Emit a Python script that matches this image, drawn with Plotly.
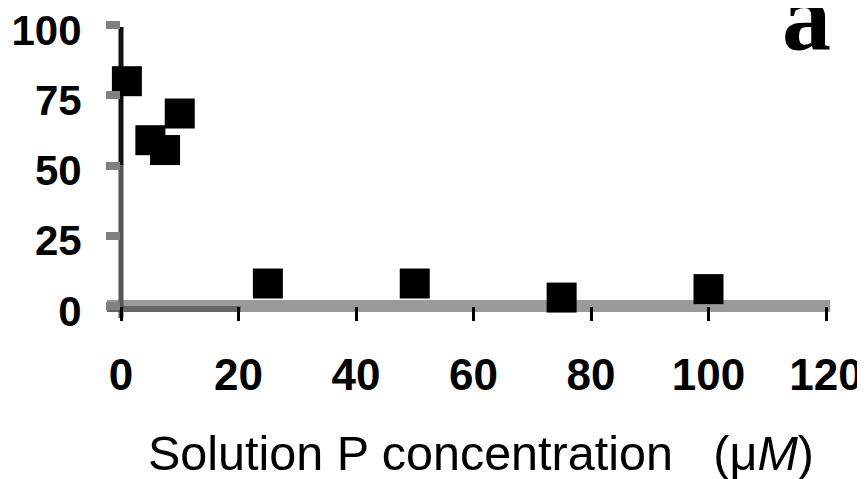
import plotly.graph_objects as go

# Data
conc = [1, 5, 7.5, 10, 25, 50, 75, 100]
value = [80, 59, 55.5, 68.5, 8, 8, 3, 6]
x_ticks = [0, 20, 40, 60, 80, 100, 120]
y_ticks = [0, 25, 50, 75, 100]

fig = go.Figure()
fig.add_trace(go.Scatter(
    x=conc, y=value, mode="markers",
    marker=dict(symbol="square", size=30, color="black", line=dict(width=0)),
    cliponaxis=False, showlegend=False,
))

# axis decorations (band-like x axis, two-tone y axis)
fig.add_shape(type="line", xref="paper", yref="paper", x0=-0.02, x1=1.006, y0=0, y1=0,
              line=dict(color="#9a9a9a", width=12), layer="below")
fig.add_shape(type="line", xref="paper", yref="paper", x0=-0.02, x1=0.17, y0=-0.0107, y1=-0.0107,
              line=dict(color="#666666", width=6), layer="below")
fig.add_shape(type="line", xref="paper", yref="paper", x0=0, x1=0, y0=-0.043, y1=0.5,
              line=dict(color="#555555", width=5), layer="below")
fig.add_shape(type="line", xref="paper", yref="paper", x0=0, x1=0, y0=0.5, y1=0.993,
              line=dict(color="#111111", width=5), layer="below")

fig.add_annotation(text="a", xref="paper", yref="paper", x=0.972, y=1.032,
                   xanchor="center", yanchor="middle", showarrow=False,
                   font=dict(family="Liberation Serif", size=98, color="black", weight="bold"))

fig.add_annotation(text="Solution P concentration\u00a0\u00a0\u00a0(\u03bc<i>M</i>)",
                   xref="paper", yref="paper", x=0.5106, y=-0.522,
                   xanchor="center", yanchor="middle", showarrow=False,
                   font=dict(family="Liberation Sans", size=48.5, color="black"))

fig.update_layout(
    width=865, height=479,
    margin=dict(l=113, r=47, t=17, b=181),
    paper_bgcolor="white", plot_bgcolor="white",
    font=dict(family="Liberation Sans", color="black"),
)
fig.update_xaxes(
    range=[0, 120], tickvals=x_ticks, ticktext=[str(v) for v in x_ticks],
    showline=False, showgrid=False, zeroline=False,
    ticks="outside", ticklen=14, tickwidth=3, tickcolor="black",
    tickfont=dict(size=44, weight="bold", color="black"),
    ticklabelstandoff=16, automargin=False, ticklabeloverflow="allow",
)
fig.update_yaxes(
    range=[0, 100], tickvals=y_ticks, ticktext=[str(v) for v in y_ticks],
    showline=False, showgrid=False, zeroline=False,
    ticks="outside", ticklen=14, tickwidth=8, tickcolor="#808080",
    tickfont=dict(size=42, weight="bold", color="black"),
    ticklabelstandoff=16, ticklabelshift=5, automargin=False, ticklabeloverflow="allow",
)

fig.write_html("out.html")
